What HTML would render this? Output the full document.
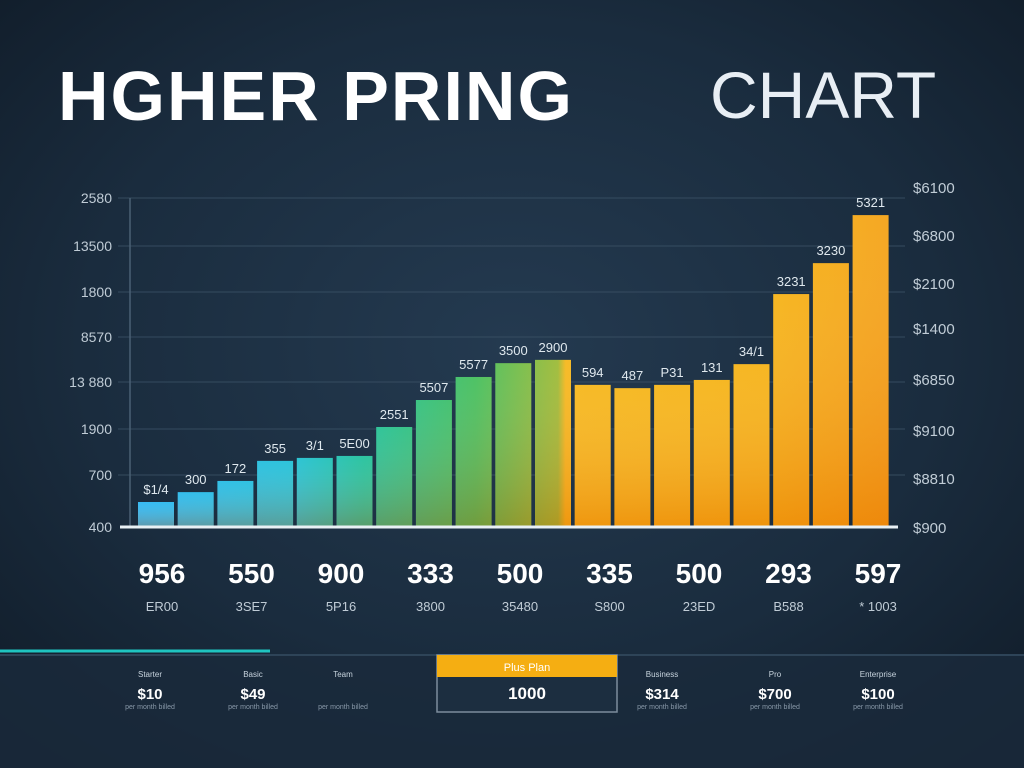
<!DOCTYPE html>
<html><head><meta charset="utf-8"><style>
html,body{margin:0;padding:0;width:1024px;height:768px;overflow:hidden;background:#17293a;font-family:"Liberation Sans",sans-serif}
svg{display:block}
</style></head><body>
<svg id="c" width="1024" height="768">
<defs>
<radialGradient id="bg" cx="50%" cy="45%" r="70%"><stop offset="0" stop-color="#243a50"/><stop offset="0.6" stop-color="#1a2c3e"/><stop offset="1" stop-color="#111d2a"/></radialGradient>
<linearGradient id="barH" gradientUnits="userSpaceOnUse" x1="138" y1="0" x2="888" y2="0">
<stop offset="0" stop-color="#26b4f2"/><stop offset="0.2" stop-color="#1cbfd8"/><stop offset="0.3" stop-color="#1cbf9a"/><stop offset="0.45" stop-color="#40bd58"/><stop offset="0.56" stop-color="#9ab830"/><stop offset="0.57" stop-color="#f5b515"/><stop offset="0.85" stop-color="#f5b010"/><stop offset="1" stop-color="#f4a010"/></linearGradient>
<linearGradient id="shade" x1="0" y1="0" x2="0" y2="1"><stop offset="0" stop-color="#fff" stop-opacity="0.08"/><stop offset="1" stop-color="#e05000" stop-opacity="0.3"/></linearGradient>
</defs>
<rect width="1024" height="768" fill="url(#bg)"/>
<rect x="0" y="655" width="1024" height="113" fill="#1a2b3c" opacity="0.8"/>
<line x1="0" y1="655" x2="1024" y2="655" stroke="#2e4458" stroke-width="2"/>
<line x1="0" y1="651" x2="270" y2="651" stroke="#1fc4c0" stroke-width="3"/>
<text x="58" y="120" fill="#fff" font-size="70" font-weight="bold" letter-spacing="2">HGHER PRING</text>
<text x="710" y="118" fill="#e8eef4" font-size="66" font-weight="normal">CHART</text>
<g id="grid"></g><g id="bars"></g><g id="labels"></g>
<line x1="130" y1="198" x2="130" y2="527" stroke="#4a6074" stroke-width="1.5"/>
<line x1="120" y1="527" x2="898" y2="527" stroke="#e8f0f4" stroke-width="3"/>
<g id="bottom"></g>
<rect x="437" y="655" width="180" height="57" fill="#1c2e40" stroke="#7c8c9c" stroke-width="1.5"/>
<rect x="437" y="655" width="180" height="22" fill="#f5ae12"/>
<text x="527" y="671" fill="#fff" font-size="11" text-anchor="middle">Plus Plan</text>
<text x="527" y="699" fill="#fff" font-size="17" font-weight="bold" text-anchor="middle">1000</text>
</svg>
<script>
const values=[76,106,140,201,210,216,304,386,456,498,508,432,422,432,447,495,708,802,948];
const barLabels=["$1/4","300","172","355","3/1","5E00","2551","5507","5577","3500","2900","594","487","P31","131","34/1","3231","3230","5321"];
const leftTicks=["400","700","1900","13 880","8570","1800","13500","2580"];
const rightTicks=["$900","$8810","$9100","$6850","$1400","$2100","$6800","$6100"];
const bigNums=["956","550","900","333","500","335","500","293","597"];
const subNums=["ER00","3SE7","5P16","3800","35480","S800","23ED","B588","* 1003"];
const planNames=["Starter","Basic","Team","","Business","Pro","Enterprise"];
const planPrices=["$10","$49","","","$314","$700","$100"];
const ns="http://www.w3.org/2000/svg";
const y0=527,yTop=198,vMax=1000;
const y=v=>y0-(v/vMax)*(y0-yTop);
const x0=138,step=39.7,bw=36;
const x=i=>x0+i*step;
function mk(t,a,p){const e=document.createElementNS(ns,t);for(const k in a)e.setAttribute(k,a[k]);p.appendChild(e);return e;}
const gridY=[527,475,429,382,337,292,246,198];
const g=document.getElementById('grid');
leftTicks.forEach((t,i)=>{
  const gy=gridY[i];
  if(i>0){const l=mk('line',{x1:118,y1:gy,x2:905,y2:gy,stroke:'#3a5064','stroke-width':1.2,opacity:0.7},g);
  
  }
  const tx=mk('text',{x:112,y:gy+5,fill:'#c0ccd6','font-size':14,'text-anchor':'end'},g);tx.textContent=t;
  
  
});
const rY=[527,478,430,379,328,283,235,187];
rightTicks.forEach((t,i)=>{
  const tx=mk('text',{x:913,y:rY[i]+6,fill:'#c0ccd6','font-size':15},g);tx.textContent=t;
  
  
});
const b=document.getElementById('bars'),lb=document.getElementById('labels');
values.forEach((v,i)=>{
  const r=mk('rect',{x:x(i),y:y(v),width:bw,height:y0-y(v),fill:'url(#barH)'},b);
  
  
  mk('rect',{x:x(i),y:y(v),width:bw,height:y0-y(v),fill:'url(#shade)'},b);
  const t=mk('text',{x:x(i)+bw/2,y:y(v)-8,fill:'#dfe8ee','font-size':13,'text-anchor':'middle'},lb);t.textContent=barLabels[i];
  
  
});
const bo=document.getElementById('bottom');
bigNums.forEach((n,i)=>{
  const cx=162+i*89.5;
  const t=mk('text',{x:cx,y:583,fill:'#fff','font-size':28,'font-weight':'bold','text-anchor':'middle'},bo);t.textContent=n;
  
  
  const s=mk('text',{x:cx,y:611,fill:'#c0ccd6','font-size':13,'text-anchor':'middle'},bo);s.textContent=subNums[i];
  
  
});
const pX=[150,253,343,0,662,775,878];
planNames.forEach((n,i)=>{
  if(i===3)return;
  const t=mk('text',{x:pX[i],y:677,fill:'#c8d4de','font-size':8,'text-anchor':'middle'},bo);t.textContent=n;
  
  
  if(planPrices[i]){const p=mk('text',{x:pX[i],y:699,fill:'#fff','font-size':15,'font-weight':'bold','text-anchor':'middle'},bo);p.textContent=planPrices[i];
  
  }
  const d=mk('text',{x:pX[i],y:709,fill:'#8898a8','font-size':7,'text-anchor':'middle'},bo);d.textContent='per month billed';
  
  
});
</script>
</body></html>
